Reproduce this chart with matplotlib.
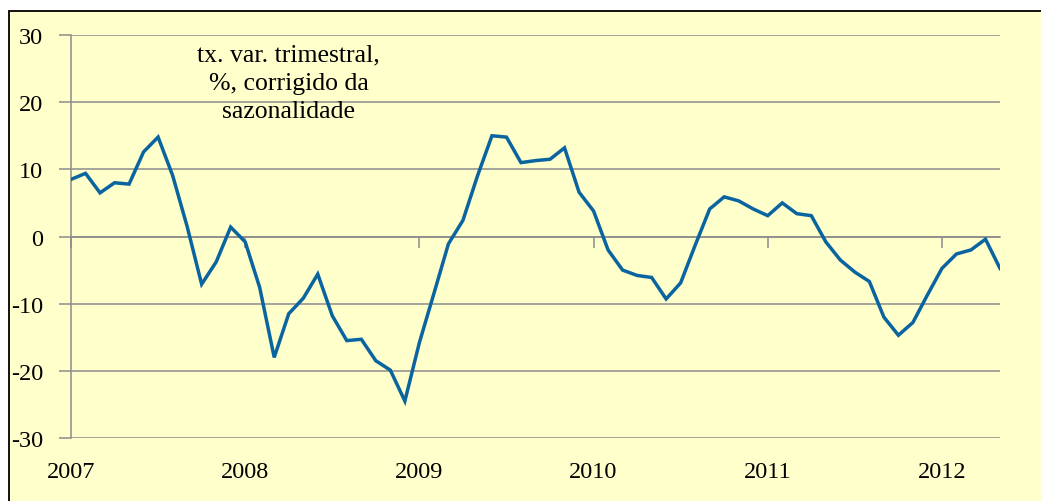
import matplotlib
matplotlib.use("Agg")
import matplotlib.pyplot as plt
from matplotlib.patches import Rectangle
from matplotlib.transforms import blended_transform_factory

# monthly values, Jan 2007 .. May 2012
values = [
    8.5, 9.4, 6.5, 8.0, 7.8, 12.6, 14.8, 9.1, 1.5, -7.1, -3.8, 1.4,
    -0.8, -7.6, -18.0, -11.5, -9.2, -5.6, -11.8, -15.5, -15.3, -18.5, -19.9, -24.5,
    -15.8, -8.5, -1.1, 2.4, 9.0, 15.0, 14.8, 11.0, 11.3, 11.5, 13.2, 6.6,
    3.8, -2.0, -5.0, -5.8, -6.1, -9.3, -6.9, -1.3, 4.1, 5.9, 5.3, 4.1,
    3.1, 5.0, 3.4, 3.1, -0.8, -3.5, -5.3, -6.7, -12.0, -14.7, -12.8, -8.7,
    -4.75, -2.6, -2.0, -0.4, -4.75,
]
years = ["2007", "2008", "2009", "2010", "2011", "2012"]
y_ticks = [-30, -20, -10, 0, 10, 20, 30]
note = "tx. var. trimestral,\n%, corrigido da\nsazonalidade"

BG = "#FFFFCC"
LINE = "#0A64A0"
GRID = "#8C8C8C"
SERIF = ["Liberation Serif", "DejaVu Serif"]

W, H = 1041, 502
fig = plt.figure(figsize=(W / 100, H / 100), dpi=100)
fig.patch.set_facecolor("white")

# yellow panel with black frame (runs off the right and bottom edges)
frame = Rectangle((9 / W, -0.05), 1.2, (H - 12) / H + 0.05,
                  transform=fig.transFigure, facecolor=BG,
                  edgecolor="black", linewidth=1.3, zorder=-5)
fig.add_artist(frame)

ax = fig.add_axes([71 / W, (H - 439) / H, (1000 - 71) / W, (439 - 36) / H])
ax.set_zorder(1)
ax.patch.set_alpha(0)

x = list(range(len(values)))
ax.plot(x, values, color=LINE, linewidth=2.5, solid_joinstyle="miter", zorder=3)

ax.set_xlim(0, len(values) - 1)
ax.set_ylim(-30, 30)
ax.set_yticks(y_ticks)
ax.set_yticklabels([str(v) for v in y_ticks], fontfamily=SERIF, fontsize=17.5)
ax.tick_params(axis="y", direction="out", length=9, width=1.1, color=GRID, pad=11)
ax.yaxis.grid(True, color=GRID, linewidth=1.1)
ax.set_axisbelow(True)

for side in ("top", "right"):
    ax.spines[side].set_visible(False)
ax.spines["left"].set_color(GRID)
ax.spines["left"].set_linewidth(1.1)
ax.spines["bottom"].set_position(("data", 0))
ax.spines["bottom"].set_color(GRID)
ax.spines["bottom"].set_linewidth(1.1)

year_pos = [12 * i for i in range(len(years))]
ax.set_xticks(year_pos)
ax.tick_params(axis="x", direction="out", length=8, width=1.1, color=GRID,
               labelbottom=False)

trans = blended_transform_factory(ax.transData, ax.transAxes)
for pos, lab in zip(year_pos, years):
    ax.text(pos, -0.082, lab, transform=trans, ha="center", va="center",
            fontfamily=SERIF, fontsize=17.5)

ax.text(15, 22.9, note, ha="center", va="center", fontfamily=SERIF,
        fontsize=18.5, linespacing=1.38)

fig.savefig("out.png", dpi=100, facecolor=fig.get_facecolor())
